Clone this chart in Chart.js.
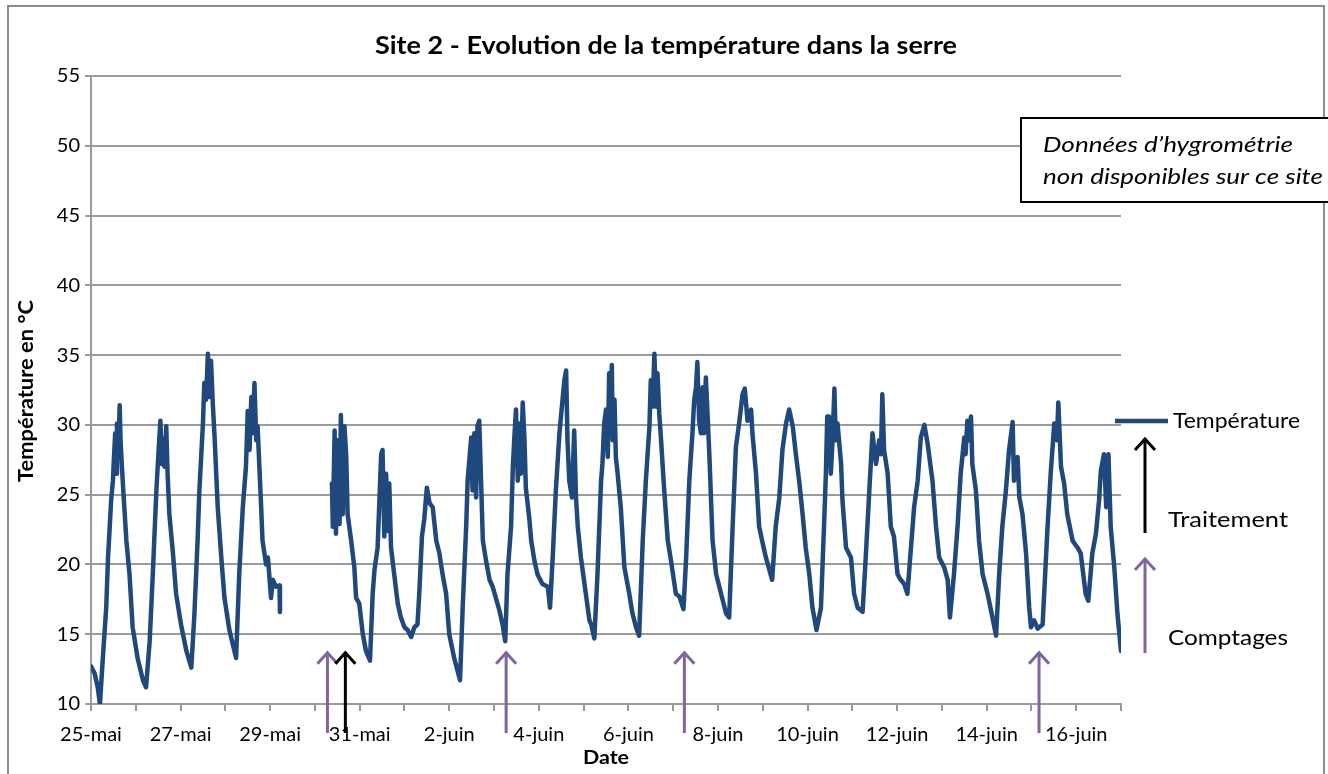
<!DOCTYPE html>
<html lang="fr">
<head>
<meta charset="utf-8">
<title>Site 2 - Evolution de la température dans la serre</title>
<script src="https://cdn.jsdelivr.net/npm/chart.js@4.4.1/dist/chart.umd.min.js"></script>
<style>
  html, body { margin: 0; padding: 0; background: #fff; }
  #wrap { width: 1328px; height: 774px; position: relative; }
</style>
</head>
<body>
<div id="wrap"><canvas id="serre"></canvas></div>
<script>
const titre = "Site 2 - Evolution de la température dans la serre";

// one label per day, day 0 = 25 mai
const etiquettesDates = [
  "25-mai", "26-mai", "27-mai", "28-mai", "29-mai", "30-mai", "31-mai",
  "1-juin", "2-juin", "3-juin", "4-juin", "5-juin", "6-juin", "7-juin", "8-juin",
  "9-juin", "10-juin", "11-juin", "12-juin", "13-juin", "14-juin", "15-juin",
  "16-juin", "17-juin"
];

// time of each reading, in days since 25 mai 00h (null temp = sensor gap)
const jours = [
  0.00, 0.08, 0.15, 0.20, 0.26, 0.34, 0.38, 0.41, 0.45, 0.49, 0.51, 0.54, 0.56, 0.58, 0.61, 0.64, 0.66, 0.69, 0.73, 0.79, 0.86, 0.93,
  1.04, 1.16, 1.23, 1.31, 1.38, 1.46, 1.51, 1.55, 1.58, 1.61, 1.64, 1.68, 1.71, 1.75, 1.83, 1.90,
  2.01, 2.13, 2.24, 2.31, 2.38, 2.42, 2.46, 2.50, 2.53, 2.57, 2.61, 2.65, 2.68, 2.72, 2.76, 2.83, 2.91, 2.98,
  3.09, 3.24, 3.31, 3.39, 3.46, 3.50, 3.54, 3.58, 3.61, 3.65, 3.69, 3.72, 3.80, 3.83, 3.91, 3.95,
  4.02, 4.06, 4.13, 4.21, 4.22, 4.80,
  5.38, 5.40, 5.44, 5.47, 5.51, 5.55, 5.58, 5.62, 5.66, 5.70, 5.73, 5.81, 5.88, 5.92, 5.99,
  6.07, 6.14, 6.23, 6.29, 6.33, 6.40, 6.44, 6.48, 6.51, 6.55, 6.59, 6.63, 6.66, 6.70, 6.77, 6.85, 6.92,
  7.00, 7.07, 7.15, 7.22, 7.29, 7.33, 7.39, 7.44, 7.50, 7.56, 7.63, 7.71, 7.78, 7.85, 7.93,
  8.00, 8.11, 8.24, 8.30, 8.38, 8.41, 8.49, 8.52, 8.56, 8.60, 8.63, 8.67, 8.71, 8.75, 8.82, 8.90, 8.97,
  9.04, 9.12, 9.19, 9.25, 9.30, 9.38, 9.42, 9.45, 9.49, 9.53, 9.56, 9.60, 9.64, 9.68, 9.71, 9.79, 9.83, 9.90, 9.97,
  10.08, 10.20, 10.25, 10.31, 10.38, 10.46, 10.50, 10.53, 10.57, 10.61, 10.64, 10.68, 10.74, 10.79, 10.83, 10.87, 10.94,
  11.02, 11.13, 11.17, 11.24, 11.31, 11.39, 11.42, 11.46, 11.50, 11.54, 11.57, 11.61, 11.63, 11.65, 11.69, 11.72, 11.76, 11.83, 11.91,
  12.02, 12.09, 12.17, 12.24, 12.32, 12.39, 12.47, 12.50, 12.54, 12.58, 12.62, 12.65, 12.69, 12.73, 12.80, 12.88, 12.95,
  13.06, 13.14, 13.23, 13.29, 13.36, 13.43, 13.47, 13.51, 13.54, 13.58, 13.62, 13.66, 13.69, 13.73, 13.77, 13.81, 13.88, 13.96,
  14.07, 14.18, 14.25, 14.33, 14.40, 14.48, 14.55, 14.60, 14.66, 14.74, 14.77, 14.85, 14.92,
  15.00, 15.07, 15.15, 15.21, 15.29, 15.37, 15.44, 15.52, 15.59, 15.67, 15.74, 15.82, 15.89, 15.96,
  16.04, 16.11, 16.20, 16.30, 16.37, 16.41, 16.44, 16.48, 16.52, 16.56, 16.60, 16.63, 16.67, 16.75, 16.78, 16.86, 16.97,
  17.04, 17.12, 17.23, 17.30, 17.38, 17.45, 17.53, 17.60, 17.64, 17.67, 17.71, 17.79, 17.86, 17.93,
  18.01, 18.08, 18.16, 18.23, 18.31, 18.38, 18.46, 18.53, 18.61, 18.68, 18.79, 18.87, 18.94,
  19.05, 19.13, 19.18, 19.27, 19.35, 19.42, 19.50, 19.53, 19.57, 19.61, 19.65, 19.68, 19.76, 19.83, 19.91,
  20.02, 20.13, 20.21, 20.28, 20.35, 20.43, 20.50, 20.58, 20.61, 20.69, 20.73, 20.80, 20.88, 20.95, 20.99,
  21.06, 21.14, 21.25, 21.36, 21.43, 21.51, 21.57, 21.60, 21.66, 21.73, 21.80, 21.92,
  22.03, 22.10, 22.21, 22.27, 22.36, 22.44, 22.51, 22.55, 22.62, 22.67, 22.72, 22.77, 22.85, 22.92, 23.00
];

// temperature in °C, same row layout as jours
const temperatures = [
  12.7, 12.2, 11.2, 10.0, 13.1, 16.9, 20.5, 22.2, 24.6, 26.0, 27.5, 29.4, 26.5, 30.1, 28.2, 31.4, 28.9, 27.0, 24.8, 21.7, 19.3, 15.5,
  13.3, 11.7, 11.2, 14.5, 19.3, 25.3, 28.2, 30.3, 27.2, 29.0, 27.0, 29.9, 26.5, 23.6, 20.8, 17.9,
  15.7, 13.8, 12.6, 16.5, 21.7, 25.3, 27.7, 30.1, 33.0, 31.8, 35.1, 32.0, 34.6, 31.5, 29.1, 24.1, 20.5, 17.6,
  15.3, 13.3, 19.3, 24.1, 27.0, 31.0, 28.2, 32.0, 29.4, 33.0, 28.9, 29.9, 24.1, 21.7, 20.0, 20.5,
  17.6, 18.9, 18.4, 18.5, 16.6, null,
  25.8, 22.7, 29.6, 22.2, 28.9, 22.9, 30.7, 23.6, 29.9, 27.7, 23.6, 21.7, 19.8, 17.6, 17.2,
  15.0, 13.8, 13.1, 17.9, 19.6, 21.2, 24.6, 27.9, 28.2, 22.0, 26.5, 22.4, 25.8, 21.2, 19.3, 17.2, 16.2,
  15.5, 15.3, 14.8, 15.5, 15.7, 17.9, 22.0, 23.2, 25.5, 24.4, 24.1, 21.7, 20.8, 19.3, 17.9,
  15.0, 13.3, 11.7, 16.9, 22.9, 26.0, 29.1, 25.3, 29.4, 24.8, 29.9, 30.3, 26.0, 21.7, 20.3, 18.9, 18.4,
  17.6, 16.7, 15.7, 14.5, 19.3, 22.7, 27.0, 28.9, 31.1, 26.0, 30.1, 26.5, 31.6, 28.9, 25.5, 23.2, 21.7, 20.3, 19.3,
  18.6, 18.4, 16.9, 20.5, 25.3, 29.4, 30.8, 31.8, 33.2, 33.9, 28.9, 26.0, 24.8, 29.6, 24.8, 22.7, 20.5,
  18.6, 16.0, 15.7, 14.7, 19.3, 26.0, 27.2, 30.1, 31.1, 27.7, 33.7, 31.3, 34.3, 28.9, 31.8, 27.7, 26.5, 24.1, 19.8,
  17.9, 16.5, 15.5, 14.9, 21.7, 26.0, 29.9, 33.2, 31.3, 35.1, 31.3, 33.7, 30.8, 28.9, 25.3, 21.7, 20.3,
  17.9, 17.7, 16.8, 20.5, 26.0, 29.4, 31.8, 32.7, 34.5, 30.3, 29.4, 32.7, 29.4, 33.4, 30.6, 27.7, 21.7, 19.3,
  17.9, 16.5, 16.2, 22.9, 28.4, 30.3, 32.2, 32.6, 30.3, 31.1, 29.4, 26.5, 22.7,
  21.5, 20.5, 19.6, 18.9, 22.7, 24.8, 28.2, 30.1, 31.1, 29.9, 27.9, 25.8, 23.6, 21.2,
  19.3, 16.9, 15.3, 16.9, 22.9, 26.5, 30.6, 30.6, 26.5, 28.9, 32.6, 28.9, 30.1, 27.2, 24.6, 21.2, 20.5,
  17.9, 16.9, 16.6, 20.5, 25.3, 29.4, 27.2, 28.9, 27.9, 32.2, 28.2, 26.5, 22.7, 22.0,
  19.3, 18.9, 18.6, 17.9, 21.2, 24.1, 26.0, 29.1, 30.0, 28.7, 26.0, 22.7, 20.5,
  19.8, 18.9, 16.2, 19.3, 22.7, 26.5, 29.1, 27.9, 30.3, 28.9, 30.6, 27.2, 25.3, 21.7, 19.3,
  17.9, 16.2, 14.9, 19.3, 22.7, 25.3, 28.2, 30.2, 26.0, 27.7, 24.8, 23.6, 20.8, 16.9, 15.5,
  16.0, 15.4, 15.7, 22.7, 26.5, 30.1, 28.9, 31.6, 27.0, 25.8, 23.6, 21.7,
  21.2, 20.8, 17.9, 17.4, 20.8, 22.2, 24.6, 26.7, 27.9, 24.1, 27.9, 22.7, 19.8, 16.5, 13.8
];

// arrows under the curve (days since 25 mai)
const comptages = [5.28, 9.27, 13.25, 21.17];
const traitements = [5.68];
const piedFleche = 13.75; // arrow tips sit at this temperature level

if (jours.length !== temperatures.length) {
  throw new Error("jours/temperatures: " + jours.length + " vs " + temperatures.length);
}

const police = "Lato, 'Open Sans', sans-serif";
const bleu = "#1f497d";
const violet = "#8064a2";
const gris = "#9b9b9b";

function fleche(ctx, x, haut, bas, couleur) {
  ctx.save();
  ctx.strokeStyle = couleur;
  ctx.lineWidth = 3;
  ctx.beginPath();
  ctx.moveTo(x, bas);
  ctx.lineTo(x, haut + 1);
  ctx.stroke();
  ctx.beginPath();
  ctx.moveTo(x - 10, haut + 12);
  ctx.lineTo(x, haut + 1);
  ctx.lineTo(x + 10, haut + 12);
  ctx.stroke();
  ctx.restore();
}

// text squeezed/stretched horizontally to a given width
function texte(ctx, txt, x, y, largeur) {
  const w = ctx.measureText(txt).width;
  const k = largeur / w;
  ctx.save();
  ctx.translate(x, y);
  ctx.scale(k, 1);
  ctx.fillText(txt, 0, 0);
  ctx.restore();
}

// frame, titles, side legend, note box and arrows
const habillage = {
  id: "habillage",
  afterDraw(chart) {
    const { ctx, chartArea, scales } = chart;
    const x = scales.x, y = scales.y;
    ctx.save();

    ctx.strokeStyle = "#8c8c8c";
    ctx.lineWidth = 2;
    ctx.strokeRect(8, 6, 1316, 820);

    ctx.fillStyle = "#000";
    ctx.textAlign = "center";
    ctx.textBaseline = "middle";
    ctx.font = "bold 24px " + police;
    texte(ctx, titre, 666, 46, 582);

    ctx.font = "bold 19px " + police;
    texte(ctx, "Date", 606, 758, 46);
    ctx.save();
    ctx.translate(27, 391);
    ctx.rotate(-Math.PI / 2);
    ctx.font = "bold 20px " + police;
    texte(ctx, "Température en °C", 0, 0, 182);
    ctx.restore();

    const haut = y.getPixelForValue(piedFleche);
    comptages.forEach(j => fleche(ctx, x.getPixelForValue(j), haut, chartArea.bottom + 29, violet));
    traitements.forEach(j => fleche(ctx, x.getPixelForValue(j), haut, chartArea.bottom + 29, "#000"));

    // legend on the right
    ctx.strokeStyle = bleu;
    ctx.lineWidth = 4.5;
    ctx.beginPath();
    ctx.moveTo(1115, 421);
    ctx.lineTo(1168, 421);
    ctx.stroke();
    ctx.textAlign = "left";
    ctx.font = "21px " + police;
    texte(ctx, "Température", 1173, 421, 127);
    fleche(ctx, 1145, 438, 533, "#000");
    texte(ctx, "Traitement", 1168, 520, 120);
    fleche(ctx, 1145, 558, 653, violet);
    texte(ctx, "Comptages", 1168, 638, 120);

    // note box
    ctx.fillStyle = "#fff";
    ctx.fillRect(1021, 118, 310, 84);
    ctx.strokeStyle = "#000";
    ctx.lineWidth = 2;
    ctx.strokeRect(1021, 118, 310, 84);
    ctx.fillStyle = "#000";
    ctx.font = "italic 22px " + police;
    texte(ctx, "Données d\u2019hygrométrie", 1043, 145, 250);
    texte(ctx, "non disponibles sur ce site", 1043, 177, 280);

    ctx.restore();
  }
};

new Chart(document.getElementById("serre"), {
  type: "line",
  data: {
    datasets: [{
      label: "Température",
      data: jours.map((j, i) => ({ x: j, y: temperatures[i] })),
      borderColor: bleu,
      borderWidth: 4.5,
      borderJoinStyle: "round",
      borderCapStyle: "round",
      pointRadius: 0,
      tension: 0,
      spanGaps: false
    }]
  },
  options: {
    responsive: true,
    maintainAspectRatio: false,
    animation: false,
    layout: { padding: { left: 0, top: 76, right: 207, bottom: 0 } },
    plugins: { legend: { display: false }, tooltip: { enabled: false }, title: { display: false } },
    scales: {
      x: {
        type: "linear",
        min: 0,
        max: 23,
        afterFit: s => { s.height = 70; },
        grid: { drawOnChartArea: false, drawTicks: true, tickLength: 7, color: gris, lineWidth: 2 },
        border: { color: gris, width: 2 },
        ticks: {
          stepSize: 1,
          autoSkip: false,
          maxRotation: 0,
          padding: 12,
          color: "#000",
          font: { family: police, size: 20 },
          callback: v => (Number.isInteger(v) && v % 2 === 0 ? etiquettesDates[v] : "")
        }
      },
      y: {
        min: 10,
        max: 55,
        afterFit: s => { s.width = 91; },
        grid: { color: gris, lineWidth: 2, tickLength: 6 },
        border: { color: gris, width: 2 },
        ticks: {
          stepSize: 5,
          padding: 5,
          color: "#000",
          font: { family: police, size: 20 }
        }
      }
    }
  },
  plugins: [habillage]
});
</script>
</body>
</html>
